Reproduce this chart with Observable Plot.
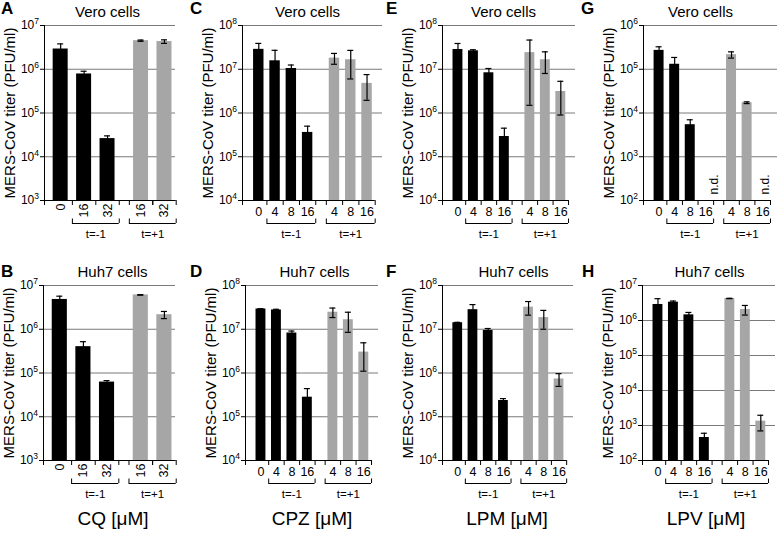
<!DOCTYPE html>
<html><head><meta charset="utf-8">
<script src="https://cdn.jsdelivr.net/npm/d3@7"></script>
<script src="https://cdn.jsdelivr.net/npm/@observablehq/plot@0.6"></script>
<style>
body{margin:0;background:#fff;}
#fig{position:relative;width:777px;height:534px;font-family:"Liberation Sans",Arial,Helvetica,sans-serif;overflow:hidden;background:#fff;}
#fig svg{position:absolute;overflow:visible;}
.letter{position:absolute;font-weight:bold;font-size:17px;line-height:17px;}
.xt{position:absolute;font-size:19px;line-height:19px;transform:translateX(-50%);white-space:nowrap;}
</style></head><body><div id="fig"></div>
<script>
// ---- data ----
const panelIds = ["A","B","C","D","E","F","G","H"];
const cellTitles = ["Vero cells","Huh7 cells","Vero cells","Huh7 cells","Vero cells","Huh7 cells","Vero cells","Huh7 cells"];
const drugs = ["CQ [\u03bcM]","CPZ [\u03bcM]","LPM [\u03bcM]","LPV [\u03bcM]"];
const yLabel = "MERS-CoV titer (PFU/ml)";

const concCQ = ["0","16","32","16","32"];
const timeCQ = ["","t=-1","t=-1","t=+1","t=+1"];
const concOther = ["0","4","8","16","4","8","16"];
const timeOther = ["","t=-1","t=-1","t=-1","t=+1","t=+1","t=+1"];

const titerA = [2.9e6, 7.8e5, 2.6e4, 4.5e6, 4.3e6];
const errA   = [0.9e6, 1.2e5, 0.4e4, 0.15e6, 0.4e6];
const titerB = [4.8e6, 4.0e5, 6.2e4, 6.1e6, 2.15e6];
const errB   = [0.9e6, 1.2e5, 0.5e4, 0.1e6, 0.4e6];
const titerC = [2.85e7, 1.56e7, 1.04e7, 3.6e5, 1.8e7, 1.65e7, 4.75e6];
const errC   = [1.05e7, 1.15e7, 0.21e7, 1.4e5, 0.5e7, 1.05e7, 2.8e6];
const titerD = [2.9e7, 2.76e7, 8.2e6, 2.8e5, 2.45e7, 1.65e7, 3.0e6];
const errD   = [0.05e7, 0.1e7, 0.9e6, 1.6e5, 0.6e7, 0.8e7, 1.9e6];
const titerE = [2.83e7, 2.64e7, 8.3e6, 2.9e5, 2.4e7, 1.65e7, 3.1e6];
const errE   = [1.05e7, 0.15e7, 2.1e6, 1.6e5, 2.25e7, 0.85e7, 2.2e6];
const titerF = [1.41e7, 2.8e7, 9.4e6, 2.35e5, 3.2e7, 1.85e7, 7.3e5];
const errF   = [0.03e7, 0.86e7, 1.0e6, 0.25e5, 1.1e7, 0.85e7, 2.35e5];
const titerG = [2.7e5, 1.3e5, 5.4e3, null, 2.15e5, 1.72e4, null];
const errG   = [0.56e5, 0.56e5, 1.6e3, null, 0.35e5, 0.08e4, null];
const titerH = [2.87e6, 3.34e6, 1.45e6, 454, 4.26e6, 2.06e6, 1330];
const errH   = [1.33e6, 0.26e6, 0.25e6, 146, 0.05e6, 0.63e6, 630];

const yDomains = [[1e3,1e7],[1e3,1e7],[1e4,1e8],[1e4,1e8],[1e4,1e8],[1e4,1e8],[1e2,1e6],[1e2,1e7]];

// ---- layout / style ----
const GRAY = "#a6a6a6";
const FONT = '"Liberation Sans", Arial, Helvetica, sans-serif';
const axisX = [44, 43, 242, 245, 442, 442, 643, 642];
const plotW = [131, 132, 140, 133, 133, 131, 134, 133];
const svgTop = [0, 260];
const titleX = [107, 112, 307, 314, 503, 513, 700, 709];
const ML = 44, MR = 4, MT = 25, PH = 175, MB = 45;

const titers = [titerA,titerB,titerC,titerD,titerE,titerF,titerG,titerH];
const errs = [errA,errB,errC,errD,errE,errF,errG,errH];

const fig = document.getElementById("fig");

function superscriptTicks(svg){
  svg.querySelectorAll("text").forEach(t => {
    const m = /^10\^(-?\d+)$/.exec(t.textContent);
    if (!m) return;
    t.textContent = "";
    const a = document.createElementNS("http://www.w3.org/2000/svg","tspan");
    a.textContent = "10";
    const b = document.createElementNS("http://www.w3.org/2000/svg","tspan");
    b.textContent = m[1];
    b.setAttribute("dy","-5");
    b.setAttribute("font-size","8.5");
    t.appendChild(a); t.appendChild(b);
  });
}

panelIds.forEach((id, k) => {
  const col = Math.floor(k / 2), row = k % 2;
  const cq = col === 0;
  const conc = cq ? concCQ : concOther;
  const time = cq ? timeCQ : timeOther;
  const gap = cq ? 0.43 : 0.65;
  const rows = conc.map((c, i) => ({
    conc: c, time: time[i],
    x: i + (time[i] === "t=+1" ? gap : 0),
    v: titers[k][i], e: errs[k][i]
  }));
  const [y0, y1] = yDomains[k];
  const decades = d3.range(Math.round(Math.log10(y0)), Math.round(Math.log10(y1)) + 1).map(e => 10 ** e);
  const xmin = cq ? -0.69 : -1;
  const last = rows[rows.length - 1].x;
  const xmax = last + (cq ? 0.47 : 0.95);
  const bounds = Array.from(new Set(rows.flatMap(r => r.time ? [r.x - 0.5, r.x + 0.5] : [r.x + 0.5]))).sort((a,b)=>a-b);
  const groups = ["t=-1","t=+1"].map(t => {
    const xs = rows.filter(r => r.time === t).map(r => r.x);
    return {label: t, a: d3.min(xs) - 0.5, b: d3.max(xs) + 0.5, mid: (d3.min(xs) + d3.max(xs)) / 2};
  });
  const valid = rows.filter(r => r.v != null);
  const black = valid.filter(r => r.time !== "t=+1");
  const gray = valid.filter(r => r.time === "t=+1");
  const ndBlack = rows.filter(r => r.v == null && r.time !== "t=+1");
  const ndGray = rows.filter(r => r.v == null && r.time === "t=+1");

  const marks = [
    Plot.ruleY(decades.slice(1), {stroke: "#7a7a7a", strokeWidth: 1}),
    Plot.rectY(black, {x1: r => r.x - 0.32, x2: r => r.x + 0.32, y1: y0, y2: "v", fill: "black"}),
    Plot.rectY(gray, {x1: r => r.x - 0.32, x2: r => r.x + 0.32, y1: y0, y2: "v", fill: GRAY}),
    Plot.ruleX(valid, {x: "x", y1: r => r.v - r.e, y2: r => r.v + r.e, stroke: "black", strokeWidth: 1.2}),
    Plot.ruleY(valid, {y: r => r.v + r.e, x1: "x", x2: "x", insetLeft: -3, insetRight: -3, stroke: "black", strokeWidth: 1.2}),
    Plot.ruleY(gray, {y: r => r.v - r.e, x1: "x", x2: "x", insetLeft: -3, insetRight: -3, stroke: "black", strokeWidth: 1.2}),
    // axes
    Plot.ruleY([y0], {x1: xmin, x2: bounds[bounds.length - 1], stroke: "black"}),
    Plot.ruleX([xmin], {stroke: "black"}),
    Plot.ruleX([xmin, ...bounds], {y1: y0, y2: y0, insetBottom: -5, stroke: "black"}),
    // x labels
    cq
      ? Plot.text(rows, {x: "x", y: y0, text: "conc", rotate: -90, textAnchor: "end", dy: 3, fontSize: 12.5})
      : Plot.text(rows, {x: "x", y: y0, text: "conc", dy: 11, fontSize: 12.5}),
    // brackets
    Plot.ruleY(groups, {y: y0, x1: "a", x2: "b", dy: 23, stroke: "black"}),
    Plot.ruleX(groups.flatMap(g => [g.a, g.b]), {y1: y0, y2: y0, insetBottom: 4.5, dy: 23, stroke: "black"}),
    Plot.text(groups, {x: "mid", y: y0, text: "label", dy: 33.5, fontSize: 11.5}),
    // n.d.
    Plot.text(ndBlack, {x: "x", y: y0, text: () => "n.d.", rotate: -90, textAnchor: "start", dy: -6, dx: 8, fontSize: 12}),
    Plot.text(ndGray, {x: "x", y: y0, text: () => "n.d.", rotate: -90, textAnchor: "start", dy: -6, dx: 2, fontSize: 12}),
    // y label and title
    Plot.text([yLabel], {frameAnchor: "left", textAnchor: "middle", lineAnchor: "middle", rotate: -90, dx: -34, fontSize: 15}),
    Plot.text([cellTitles[k]], {frameAnchor: "top", textAnchor: "middle", lineAnchor: "middle", dy: -13, dx: titleX[k] - (axisX[k] + plotW[k] / 2), fontSize: 15})
  ];

  const svg = Plot.plot({
    width: ML + plotW[k] + MR,
    height: MT + PH + MB,
    marginLeft: ML, marginRight: MR, marginTop: MT, marginBottom: MB,
    style: {fontFamily: FONT, fontSize: "12px", color: "black", background: "transparent", overflow: "visible"},
    x: {domain: [xmin, xmax], axis: null},
    y: {type: "log", domain: [y0, y1], ticks: decades, tickFormat: d => "10^" + Math.round(Math.log10(d)), tickSize: 4, tickPadding: 1.5, label: null},
    marks
  });
  svg.style.left = (axisX[k] - ML) + "px";
  svg.style.top = svgTop[row] + "px";
  superscriptTicks(svg);
  fig.appendChild(svg);

  const L = document.createElement("div");
  L.className = "letter";
  L.textContent = id;
  L.style.left = [1, 1, 190, 190, 386, 386, 581, 582][k] + "px";
  L.style.top = (row === 0 ? 0 : 263) + "px";
  fig.appendChild(L);
});

const xtX = [113, 312, 507, 706];
drugs.forEach((d, c) => {
  const t = document.createElement("div");
  t.className = "xt";
  t.textContent = d;
  t.style.left = xtX[c] + "px";
  t.style.top = "509px";
  fig.appendChild(t);
});
</script></body></html>
